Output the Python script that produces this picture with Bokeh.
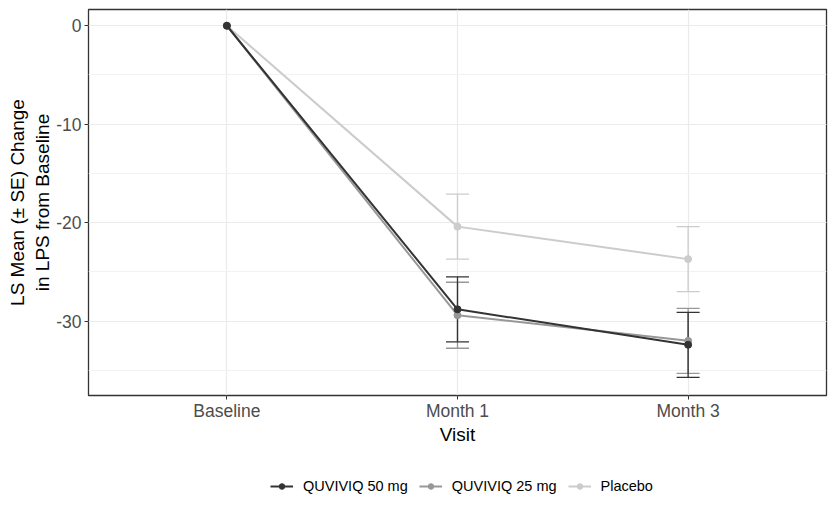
from bokeh.plotting import figure
from bokeh.layouts import column
from bokeh.models import (ColumnDataSource, Whisker, TeeHead, Legend, LegendItem,
                          FixedTicker, SingleIntervalTicker, Range1d)
from bokeh.embed import file_html
from bokeh.resources import INLINE

# ---- data ----
visits = ["Baseline", "Month 1", "Month 3"]
groups = ["QUVIVIQ 50 mg", "QUVIVIQ 25 mg", "Placebo"]
mean_50 = [0.0, -28.8, -32.4]
se_50 = [None, 3.3, 3.3]
mean_25 = [0.0, -29.4, -32.0]
se_25 = [None, 3.35, 3.3]
mean_pbo = [0.0, -20.4, -23.7]
se_pbo = [None, 3.3, 3.3]
y_ticks = [0, -10, -20, -30]
colors = ["#333333", "#989898", "#CCCCCC"]

FONT = "Liberation Sans"

p = figure(width=835, height=455, output_backend="svg", toolbar_location=None,
           x_range=Range1d(-0.6, len(visits) - 1 + 0.6),
           y_range=Range1d(-37.55, 1.65),
           min_border_left=88, min_border_right=9, min_border_top=9,
           min_border_bottom=60)
p.background_fill_color = "white"
p.border_fill_color = "white"
p.outline_line_color = "#333333"
p.outline_line_width = 1.3

xs = list(range(len(visits)))
series = [(mean_pbo, se_pbo, colors[2], groups[2]),
          (mean_25, se_25, colors[1], groups[1]),
          (mean_50, se_50, colors[0], groups[0])]

for mean, se, col, name in series:
    src = ColumnDataSource(dict(x=xs, y=mean))
    p.line("x", "y", source=src, line_color=col, line_width=2)
    p.scatter("x", "y", source=src, size=7, fill_color=col, line_color=col)
    idx = [i for i, s in enumerate(se) if s is not None]
    wsrc = ColumnDataSource(dict(
        x=[xs[i] for i in idx],
        upper=[mean[i] + se[i] for i in idx],
        lower=[mean[i] - se[i] for i in idx]))
    w = Whisker(base="x", upper="upper", lower="lower", source=wsrc,
                line_color=col, line_width=1.3,
                upper_head=TeeHead(size=23, line_color=col, line_width=1.3),
                lower_head=TeeHead(size=23, line_color=col, line_width=1.3))
    p.add_layout(w)

# axes
p.xaxis.ticker = FixedTicker(ticks=xs)
p.xaxis.major_label_overrides = {i: v for i, v in enumerate(visits)}
p.yaxis.ticker = SingleIntervalTicker(interval=10, num_minor_ticks=2)
p.yaxis.major_label_overrides = {t: str(t) for t in y_ticks}

for ax in (p.xaxis[0], p.yaxis[0]):
    ax.axis_line_color = None
    ax.major_tick_line_color = "#333333"
    ax.major_tick_out = 4
    ax.major_tick_in = 0
    ax.minor_tick_line_color = None
    ax.major_label_text_font = FONT
    ax.major_label_text_font_size = "17.5px"
    ax.major_label_text_color = "#4D4D4D"
    ax.axis_label_text_font = FONT
    ax.axis_label_text_font_size = "19px"
    ax.axis_label_text_font_style = "normal"
    ax.axis_label_text_color = "black"

p.xaxis.axis_label = "Visit"
p.xaxis.major_label_standoff = 1
p.xaxis.axis_label_standoff = 0
p.yaxis.axis_label = "LS Mean (\u00b1 SE) Change\nin LPS from Baseline"
p.yaxis.major_label_standoff = 3
p.yaxis.axis_label_standoff = 0

# grid
p.xgrid.grid_line_color = "#EBEBEB"
p.xgrid.grid_line_width = 1.2
p.ygrid.grid_line_color = "#EBEBEB"
p.ygrid.grid_line_width = 1.2
p.ygrid.minor_grid_line_color = "#F2F2F2"
p.ygrid.minor_grid_line_width = 1

# ---- legend figure ----
lg = figure(width=835, height=61, output_backend="svg", toolbar_location=None,
            x_range=Range1d(0, 1), y_range=Range1d(0, 1),
            min_border=0, outline_line_color=None)
lg.axis.visible = False
lg.grid.visible = False
items = []
empty = dict(x=[float("nan")], y=[float("nan")])
for g, col in zip(groups, colors):
    s = ColumnDataSource(empty)
    r1 = lg.line("x", "y", source=s, line_color=col, line_width=2)
    r2 = lg.scatter("x", "y", source=s, size=7, fill_color=col, line_color=col)
    items.append(LegendItem(label=g, renderers=[r1, r2]))

legend = Legend(items=items, orientation="horizontal", location=(182, 22),
                label_text_font=FONT, label_text_font_size="14.5px",
                label_text_color="black",
                glyph_width=23, glyph_height=14, label_standoff=10, spacing=11,
                border_line_color=None, background_fill_alpha=0,
                padding=2, margin=0)
lg.add_layout(legend, "center")

layout = column(p, lg, spacing=0)
open("out.html", "w").write(file_html(layout, INLINE))
